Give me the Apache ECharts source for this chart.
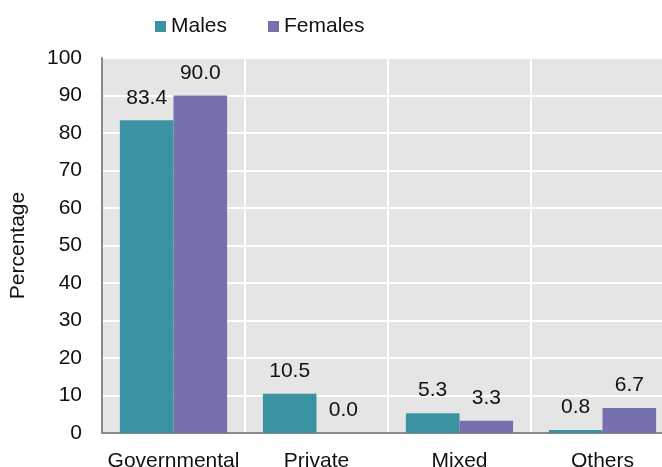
<!DOCTYPE html>
<html>
<head>
<meta charset="utf-8">
<script src="https://cdn.jsdelivr.net/npm/echarts@6/dist/echarts.min.js"></script>
<style>
html,body{margin:0;padding:0;background:#fff;overflow:hidden;}
#c{width:662px;height:467px;}
</style>
</head>
<body>
<div id="c"></div>
<script>
var categories = ['Governmental', 'Private', 'Mixed', 'Others'];
var males = [83.4, 10.5, 5.3, 0.8];
var females = [90.0, 0.0, 3.3, 6.7];
var yTicks = [0, 10, 20, 30, 40, 50, 60, 70, 80, 90, 100];

var FONT = '"Liberation Sans", Arial, sans-serif';
var TXT = '#111111';
var FS = 21;
var chart = echarts.init(document.getElementById('c'), null, {renderer: 'canvas'});

function lbl() {
  return {
    show: true, position: 'top', distance: 12,
    fontFamily: FONT, fontSize: FS, color: TXT,
    formatter: function (p) { return Number(p.value).toFixed(1); }
  };
}

chart.setOption({
  animation: false,
  textStyle: {fontFamily: FONT},
  legend: {
    data: ['Males', 'Females'],
    left: 150, top: 11,
    itemWidth: 11, itemHeight: 11, itemGap: 41,
    icon: 'rect',
    textStyle: {fontFamily: FONT, fontSize: FS, color: TXT}
  },
  grid: {
    left: 102, width: 572, top: 58, height: 375,
    outerBoundsMode: 'none', containLabel: false,
    show: true, backgroundColor: '#e5e5e5', borderWidth: 0
  },
  xAxis: {
    type: 'category',
    data: categories,
    axisLine: {show: true, lineStyle: {color: '#8a8a8a', width: 2}},
    axisTick: {show: false},
    axisLabel: {interval: 0, fontFamily: FONT, fontSize: FS, color: TXT, margin: 18},
    splitLine: {show: true, interval: 0, lineStyle: {color: '#ffffff', width: 2}}
  },
  yAxis: {
    type: 'value',
    min: yTicks[0], max: yTicks[yTicks.length - 1], interval: 10,
    name: 'Percentage', nameLocation: 'middle', nameGap: 73, nameRotate: 90,
    nameTextStyle: {fontFamily: FONT, fontSize: FS, color: TXT},
    axisLine: {show: true, lineStyle: {color: '#8a8a8a', width: 2}},
    axisTick: {show: false},
    axisLabel: {fontFamily: FONT, fontSize: FS, color: TXT, margin: 20},
    splitLine: {show: true, lineStyle: {color: '#ffffff', width: 2}}
  },
  series: [
    {
      name: 'Males', type: 'bar', data: males,
      barCategoryGap: '25%', barGap: '0%',
      itemStyle: {color: '#3a92a2'},
      label: lbl()
    },
    {
      name: 'Females', type: 'bar', data: females,
      barCategoryGap: '25%', barGap: '0%',
      itemStyle: {color: '#7571ad'},
      label: lbl()
    }
  ]
});
</script>
</body>
</html>
